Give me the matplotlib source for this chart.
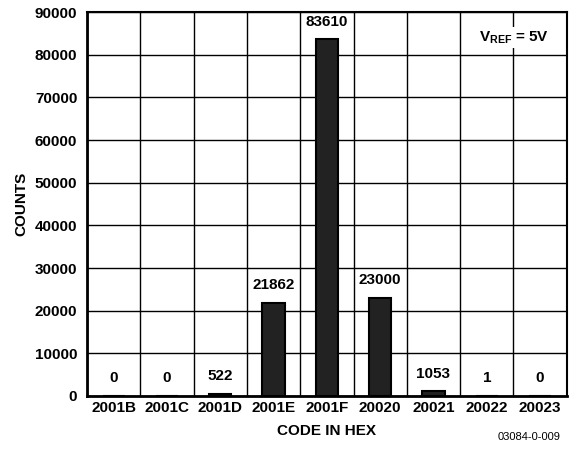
import numpy as np
import matplotlib.pyplot as plt

plt.rcParams['font.family'] = ['Liberation Sans', 'DejaVu Sans']
plt.rcParams['font.weight'] = 'bold'
plt.rcParams['mathtext.fontset'] = 'custom'
plt.rcParams['mathtext.bf'] = 'Liberation Sans:bold'
plt.rcParams['mathtext.rm'] = 'Liberation Sans:bold'

# Histogram of output codes
codes = ['2001B', '2001C', '2001D', '2001E', '2001F', '20020', '20021', '20022', '20023']
counts = [0, 0, 522, 21862, 83610, 23000, 1053, 1, 0]

fig = plt.figure(figsize=(5.69, 4.53), dpi=100)
ax = fig.add_axes([0.153, 0.126, 0.843, 0.847])

x = np.arange(len(codes))
ax.bar(x, counts, width=0.42, color='#222222', edgecolor='black', linewidth=1.5, zorder=3)

# value labels above each bar
for xi, v in zip(x, counts):
    ax.text(xi, v + 2500, str(v), ha='center', va='bottom',
            fontsize=11, fontweight='bold', zorder=4)

ax.set_xlim(-0.5, len(codes) - 0.5)
ax.set_ylim(0, 90000)
ax.set_yticks(np.arange(0, 90001, 10000))
ax.set_xticks(x)
ax.set_xticklabels(codes)

# grid: vertical lines between categories, horizontal every 10000
ax.set_xticks(np.arange(-0.5, len(codes), 1), minor=True)
ax.grid(which='minor', axis='x', color='black', linewidth=1.0, zorder=1)
ax.grid(which='major', axis='y', color='black', linewidth=1.0, zorder=1)
ax.tick_params(which='both', length=0)
ax.tick_params(axis='y', labelsize=11, pad=7)
ax.tick_params(axis='x', labelsize=11, pad=4)
for lbl in ax.get_xticklabels() + ax.get_yticklabels():
    lbl.set_fontweight('bold')

for side in ['left', 'bottom']:
    ax.spines[side].set_linewidth(2.0)
for side in ['top', 'right']:
    ax.spines[side].set_linewidth(1.5)

ax.set_xlabel('CODE IN HEX', fontsize=11, fontweight='bold', labelpad=6)
ax.set_ylabel('COUNTS', fontsize=11, fontweight='bold', labelpad=5)

ax.text(0.89, 0.935, r'V$_{\mathbf{REF}}$ = 5V', transform=ax.transAxes,
        ha='center', va='center', fontsize=11, fontweight='bold', zorder=5,
        bbox=dict(facecolor='white', edgecolor='none', pad=1.5))

fig.text(0.985, 0.035, '03084-0-009', ha='right', va='center',
         fontsize=8, fontweight='normal')

fig.savefig('out.png', dpi=100)
